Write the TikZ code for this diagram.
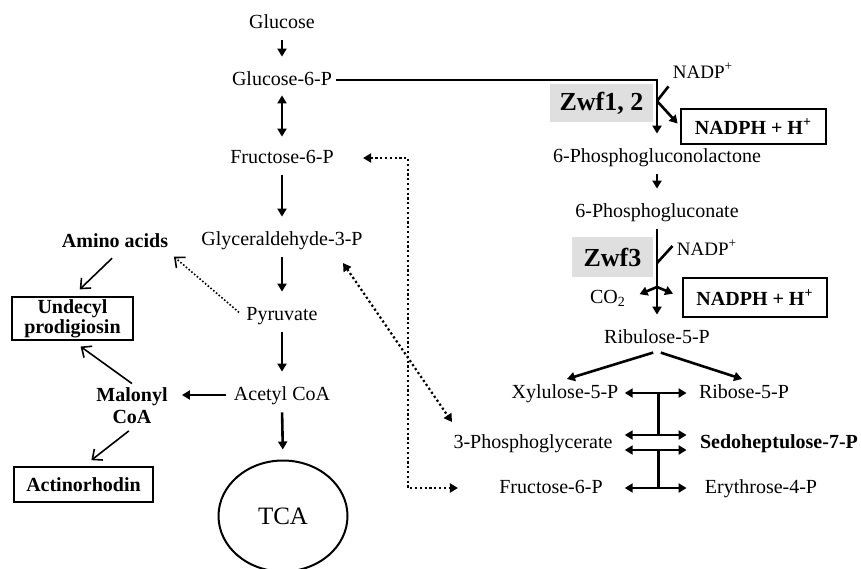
\documentclass[tikz,border=0pt]{standalone}
\usepackage{fontspec}
\setmainfont{Liberation Serif}
\usetikzlibrary{arrows.meta, calc, shapes.geometric}

\begin{document}
\begin{tikzpicture}[
    x=0.5pt, y=-0.5pt,
    met/.style={inner sep=2pt, text height=7pt, text depth=2pt},
    metb/.style={met, font=\bfseries},
    prod/.style={draw, line width=0.7pt, inner sep=0pt, align=center, font=\bfseries\fontsize{10}{9}\selectfont},
    enz/.style={fill=gray!25, inner sep=0pt, font=\bfseries\fontsize{13}{15}\selectfont},
    cof/.style={met, font=\fontsize{9.5}{11}\selectfont},
    nadph/.style={draw, line width=0.7pt, inner sep=0pt, font=\bfseries},
    arr/.style={line width=1.3pt, -{Triangle[length=4pt,width=4.5pt]}, shorten <=2pt, shorten >=5pt},
    dbl/.style={arr, {Triangle[length=4pt,width=4.5pt]}-{Triangle[length=4pt,width=4.5pt]}, shorten <=1pt, shorten >=4pt},
    side/.style={line width=0.8pt, -{Straight Barb[length=4pt,width=7pt]}, shorten <=2pt, shorten >=5pt},
    dotarr/.style={line width=1.1pt, dash pattern=on 1.1pt off 1.3pt, {Triangle[length=4pt,width=4.5pt]}-{Triangle[length=4pt,width=4.5pt]}},
    tkbar/.style={line width=1.3pt}
]
\useasboundingbox (0,0) rectangle (861,568);

% glycolysis
\node[met] (glucose) at (282,23) {Glucose};
\node[met] (g6p) at (282,80) {Glucose-6-P};
\node[met] (f6p) at (282,158) {Fructose-6-P};
\node[met] (gap) at (282,240) {Glyceraldehyde-3-P};
\node[met] (pyr) at (282,315) {Pyruvate};
\node[met] (accoa) at (282,395) {Acetyl CoA};
\node[ellipse, draw, line width=1pt, minimum width=64.5pt, minimum height=55.5pt, font=\fontsize{12.5}{15}\selectfont] (tca) at (283,516) {TCA};

% side products
\node[metb] (amino) at (115,242) {Amino acids};
\node[prod, minimum width=60.5pt, minimum height=21.5pt] (undecyl) at (72.5,318.5) {Undecyl\\prodigiosin};
\node[inner sep=2pt, align=center, font=\bfseries\fontsize{10}{11}\selectfont] (malonyl) at (132,406) {Malonyl\\CoA};
\node[prod, minimum width=69.5pt, minimum height=17.5pt] (actino) at (83.5,484.5) {Actinorhodin};

% pentose phosphate pathway
\node[enz, minimum width=51.5pt, minimum height=19pt] (zwfa) at (601.5,103) {Zwf1, 2};
\node[cof] (nadpa) at (703,73) {NADP\textsuperscript{+}};
\node[nadph, minimum width=72.5pt, minimum height=17.5pt] (nadpha) at (753.5,126.5) {NADPH + H\textsuperscript{+}};
\node[met] (pgl) at (657,157) {6-Phosphogluconolactone};
\node[met] (pg) at (657,212) {6-Phosphogluconate};
\node[enz, minimum width=40.5pt, minimum height=20pt] (zwfb) at (612.5,257) {Zwf3};
\node[cof] (nadpb) at (707,250) {NADP\textsuperscript{+}};
\node[met] (co2) at (608,298) {CO\textsubscript{2}};
\node[nadph, minimum width=72pt, minimum height=19.5pt] (nadphb) at (755,297.5) {NADPH + H\textsuperscript{+}};
\node[met] (ru5p) at (657,338) {Ribulose-5-P};
\node[met] (xu5p) at (565,393) {Xylulose-5-P};
\node[met] (r5p) at (744,393) {Ribose-5-P};
\node[met] (pga) at (533,443) {3-Phosphoglycerate};
\node[metb] (s7p) at (779,443) {Sedoheptulose-7-P};
\node[met] (f6pb) at (551,488) {Fructose-6-P};
\node[met] (e4p) at (761,488) {Erythrose-4-P};

\coordinate (ja) at (657,101);
\coordinate (jb) at (657,263);
\coordinate (jc) at (657,287);

\draw[arr] (glucose.south) -- (g6p.north);
\draw[dbl] (g6p.south) -- (f6p.north);
\draw[arr] (f6p.south) -- (gap.north);
\draw[arr] (gap.south) -- (pyr.north);
\draw[arr] (pyr.south) -- (accoa.north);
\draw[arr] (accoa.south) -- (tca.north);
\draw[arr] (accoa.west) -- (accoa.west -| malonyl.east);

\draw[side] (amino.south) -- (undecyl.north);
\draw[side, shorten <=0pt] (malonyl.north) -- (undecyl.south);
\draw[side] (malonyl.south) -- (actino.north);
\draw[side, dash pattern=on 0.8pt off 1pt, shorten >=1pt] (pyr.west) -- (amino.south east);

\draw[line width=1pt, -{Triangle[length=4pt,width=4.5pt]}, shorten >=5pt] (g6p.east) -| (pgl.north);
\draw[tkbar] (nadpa.south west) -- (ja);
\draw[arr, shorten <=0pt, shorten >=2pt] (ja) -- (nadpha.west);
\draw[arr] (pgl.south) -- (pg.north);
\draw[arr] (pg.south) -- (ru5p.north);
\draw[tkbar] ([yshift=2pt]nadpb.west) -- (jb);
\draw[arr, shorten <=0pt] (jc) -- (co2.east);
\draw[arr, shorten <=0pt] (jc) -- (nadphb.west);
\draw[arr, shorten >=1pt] (ru5p.south) -- (xu5p.north);
\draw[arr, shorten >=1pt] (ru5p.south) -- (r5p.north);

\draw[dbl] (xu5p.east) -- coordinate[midway] (t1) (r5p.west);
\draw[dbl] ($(xu5p.east |- pga.east)+(0,-8)$) -- coordinate[midway] (t2) ($(r5p.west |- s7p.west)+(0,-8)$);
\draw[dbl] ($(xu5p.east |- pga.east)+(0,7)$) -- coordinate[midway] (t3) ($(r5p.west |- s7p.west)+(0,7)$);
\draw[dbl] (xu5p.east |- f6pb.east) -- coordinate[midway] (t4) (r5p.west |- e4p.west);
\draw[tkbar] (t1) -- (t2);
\draw[tkbar] (t3) -- (t4);

% links between the two pathways
\draw[dotarr, shorten <=12.5pt, shorten >=18.5pt] (f6p.east) -- ++(70,0) |- (f6pb.west);
\draw[dotarr] ($(gap.center)+(61,23)$) -- ($(pga.center)+(-81,-21)$);

\end{tikzpicture}
\end{document}
